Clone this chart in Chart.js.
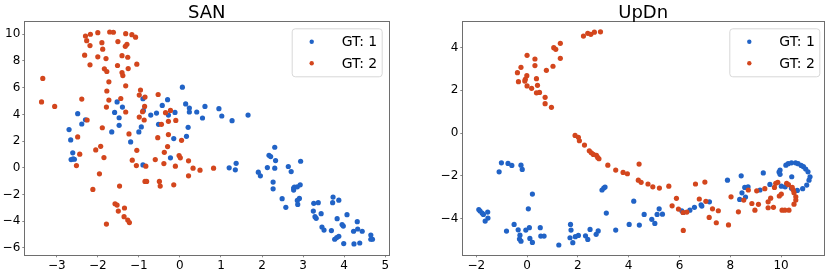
<!DOCTYPE html>
<html>
<head>
<meta charset="utf-8">
<script src="https://cdn.jsdelivr.net/npm/chart.js@4.4.0/dist/chart.umd.min.js"></script>
<style>
body{margin:0;background:#fff;}
#wrap{position:relative;width:830px;height:274px;}
canvas{position:absolute;top:0;}
</style>
</head>
<body>
<div id="wrap">
<canvas id="san" width="400" height="274" style="left:0;width:400px;height:274px"></canvas>
<canvas id="updn" width="400" height="274" style="left:430px;width:400px;height:274px"></canvas>
</div>
<script>
var labels = ["GT: 1", "GT: 2"];
var colors = ["#2163c6", "#d3461d"];

// SAN panel
var sanGT1 = [[-2.49,4.05],[-2.39,3.28],[-2.30,3.6],[-2.70,2.86],[-2.66,2.09],[-2.61,1.12],[-2.65,0.62],[-2.60,0.67],[-2.57,0.64],
[-1.66,2.69],[-1.53,4.93],[-1.40,4.55],[-1.59,4.15],[-1.48,3.75],[-1.48,3.18],[-1.20,1.94],
[-1.0,2.69],[-0.94,3.06],[-0.90,5.17],[-0.89,4.28],[-0.90,0.22],[-0.71,3.95],[-0.57,4.1],[-0.52,3.26],[-0.43,4.67],[-0.30,5.1],[-0.28,3.95],[-0.12,4.15],[-0.23,0.75],[-0.15,2.19],
[0.06,6.04],[0.14,4.78],[0.23,4.48],[0.23,4.18],[0.20,3.03],[0.16,2.36],[0.41,4.18],[0.55,3.73],[0.61,4.6],[0.95,4.43],[1.02,3.88],[1.27,3.53],[1.66,3.95],
[1.20,0.0],[1.35,-0.15],[1.37,0.34],[1.91,-0.33],[1.96,-0.6],[2.13,0.02],[2.17,0.94],[2.21,0.84],[2.31,1.54],[2.33,0.54],[2.31,-0.03],[2.27,-1.07],[2.27,-1.57],[2.49,-2.31],[2.58,-2.96],[2.64,0.1],[2.71,-0.28],[2.94,0.49],[2.77,-1.52],[2.79,-1.45],[2.77,-1.67],[2.86,-1.42],[2.93,-1.27],[2.91,-2.29],[2.86,-2.44],[2.87,-2.74],
[3.26,-2.66],[3.37,-2.61],[3.25,-3.24],[3.29,-3.66],[3.32,-3.78],[3.44,-3.43],[3.46,-4.43],[3.51,-4.66],[3.69,-4.7],[3.73,-2.19],[3.72,-2.61],[3.87,-2.42],[3.83,-3.81],[3.95,-4.25],[3.98,-4.36],[3.77,-5.35],[3.82,-5.22],[3.87,-5.13],[3.99,-5.67],[4.07,-3.51],[4.23,-4.75],[4.24,-5.7],[4.32,-4.03],[4.33,-4.58],[4.38,-5.63],[4.44,-4.75],[4.65,-5.03],[4.65,-5.35],[4.69,-5.35]];

var sanGT2 = [[-3.34,6.69],[-3.37,4.93],[-3.05,4.6],[-2.39,5.15],[-2.26,3.58],[-1.89,3.0],[-2.49,2.31],
[-2.30,9.87],[-2.18,10.0],[-2.0,10.12],[-2.27,9.52],[-2.19,9.15],[-2.32,8.43],[-2.19,7.71],[-2.0,8.31],[-1.90,9.37],[-1.88,8.88],[-1.80,8.18],[-1.84,7.41],[-1.78,7.21],[-1.73,6.44],[-1.78,5.75],[-1.73,5.07],[-1.79,4.55],
[-1.71,10.17],[-1.62,10.15],[-1.51,9.45],[-1.32,10.04],[-1.33,9.1],[-1.29,9.25],[-1.41,8.4],[-1.27,8.28],[-1.52,7.66],[-1.41,7.13],[-1.39,6.91],[-1.26,7.43],[-1.17,9.97],[-1.08,9.78],[-1.05,7.76],[-1.32,6.14],[-1.44,5.19],[-1.32,4.18],
[-0.96,5.82],[-0.99,5.45],[-0.85,5.3],[-0.86,4.6],[-0.91,4.2],[-0.99,3.8],[-0.87,3.58],[-0.53,5.49],[-0.35,4.13],[-0.23,4.3],[-0.10,3.55],[-0.28,3.48],[-0.45,3.26],[-1.24,2.54],[-0.54,2.26],[-0.28,2.49],[0.04,2.06],
[-2.44,1.02],[-2.52,0.17],[-2.05,1.34],[-1.93,1.61],[-1.85,0.77],[-1.96,-0.45],[-2.12,-1.62],[-1.47,-1.37],[-1.58,-2.69],[-1.53,-2.79],[-1.50,-3.24],[-1.35,-3.01],[-1.36,-3.66],[-1.27,-3.91],[-1.23,-4.1],[-1.79,-4.21],
[-1.16,0.57],[-1.05,1.31],[-1.06,0.17],[-0.83,0.12],[-0.85,-1.02],[-0.81,-1.02],[-0.60,0.62],[-0.50,-1.02],[-0.48,-1.37],[-0.38,1.16],[-0.39,0.32],[-0.30,1.59],[-0.15,-1.27],[-0.11,0.12],[-0.02,0.92],[0.01,0.75],[0.21,0.52],[0.21,-0.6],[0.32,-0.03],[0.49,-0.18],[0.82,-0.03]];

var sanXTicks = [-3, -2, -1, 0, 1, 2, 3, 4, 5];
var sanYTicks = [-6, -4, -2, 0, 2, 4, 6, 8, 10];

// UpDn panel
var updnGT1 = [[-1.10,-1.81],[-1.01,-1.39],[-0.75,-1.42],[-0.60,-1.51],[-0.24,-1.5],[-0.19,-1.7],[0.21,-2.85],[0.05,-3.54],
[-1.90,-3.57],[-1.85,-3.64],[-1.77,-3.74],[-1.72,-3.8],[-1.55,-3.69],[-1.54,-3.97],[-1.65,-4.11],[-0.81,-4.58],[-0.51,-4.27],[-0.35,-4.52],[-0.28,-4.77],[-0.30,-4.95],[-0.24,-5.05],[-0.05,-4.53],[0.09,-4.42],[0.11,-4.92],[0.21,-5.11],[0.52,-4.42],[0.54,-4.81],[0.67,-4.81],[1.25,-5.23],
[1.71,-4.27],[1.73,-4.53],[1.69,-4.89],[1.80,-5.12],[1.90,-4.84],[2.02,-4.78],[2.30,-4.8],[2.39,-4.97],[2.48,-4.5],[2.72,-4.73],[2.80,-4.57],[2.95,-2.66],[3.02,-2.57],[3.07,-2.52],[3.12,-3.74],[3.49,-4.53],[4.02,-4.27],
[4.20,-3.18],[4.42,-4.3],[4.61,-3.8],[4.91,-4.03],[5.03,-4.22],[5.12,-3.8],[5.20,-3.54],[5.33,-3.79],[6.09,-3.63],[6.15,-3.71],[6.41,-3.6],[6.59,-3.47],[6.85,-3.35],[6.88,-3.41],[7.18,-3.21],
[7.89,-2.2],[8.37,-3.1],[8.43,-2.0],[8.46,-2.79],[8.57,-2.54],[8.60,-2.99],[8.70,-2.51],[9.17,-2.66],[9.30,-1.86],[9.56,-2.4],[9.92,-1.82],[9.96,-1.73],[9.96,-1.93],[10.01,-2.48],
[10.19,-1.5],[10.28,-1.43],[10.41,-1.39],[10.57,-1.39],[10.67,-1.43],[10.79,-1.51],[10.88,-1.57],[10.97,-1.68],[11.06,-1.81],[11.14,-2.04],[11.10,-2.2],[11.01,-2.43],[10.85,-2.6],[10.64,-2.68],[10.42,-2.04],[10.41,-2.58],[10.16,-2.51]];

var updnGT2 = [[-0.38,2.82],[-0.24,3.07],[-0.34,2.4],[0.0,3.63],[-0.09,2.43],[-0.07,2.51],[-0.01,2.68],[0.0,2.2],[0.18,2.09],[0.31,3.46],[0.31,3.15],[0.37,2.54],[0.41,2.23],[0.37,1.88],[0.49,1.9],[0.71,1.67],[0.71,1.37],[0.76,2.93],[0.96,1.2],[1.02,3.12],[1.05,3.99],[1.13,3.91],[1.31,3.49],[1.31,4.19],
[2.22,4.53],[2.39,4.66],[2.51,4.61],[2.65,4.71],[2.89,4.73],
[1.89,-0.11],[2.02,-0.2],[2.06,-0.36],[2.26,-0.56],[2.45,-0.83],[2.53,-0.92],[2.61,-1.0],[2.73,-1.04],[2.78,-1.14],[2.83,-1.2],[3.18,-1.5],[3.49,-1.73],[3.78,-1.84],[3.95,-1.9],
[4.41,-1.45],[4.38,-2.2],[4.49,-2.3],[4.76,-2.38],[4.95,-2.51],[5.21,-2.57],[5.58,-2.48],[5.88,-3.05],[5.71,-3.4],[5.96,-3.55],[6.14,-3.71],[6.29,-3.69],[6.15,-4.55],[6.63,-2.38],[6.78,-3.08],[7.0,-2.29],[7.04,-3.19],[7.17,-3.94],[7.30,-3.54],[7.45,-4.19],[7.53,-3.63],
[7.93,-4.29],[8.03,-2.98],[8.32,-3.68],[8.53,-3.13],[8.71,-2.66],[8.85,-3.29],[8.97,-3.6],[9.04,-2.7],[9.11,-3.33],[9.36,-2.6],[9.49,-3.21],[9.49,-3.49],[9.59,-3.04],[9.70,-3.47],[9.74,-2.54],[9.79,-2.35],[9.87,-2.3],[9.93,-2.94],
[10.04,-3.6],[10.15,-3.6],[10.22,-2.35],[10.29,-2.41],[10.31,-3.6],[10.44,-2.54],[10.48,-2.66],[10.51,-2.79],[10.58,-2.98],[10.58,-3.13],[10.51,-3.32],[10.01,-2.85]];

var updnXTicks = [-2, 0, 2, 4, 6, 8, 10];
var updnYTicks = [-4, -2, 0, 2, 4];

function toPts(arr) {
  return arr.map(function (p) { return {x: p[0], y: p[1]}; });
}

// frame, title and legend drawn inside the plot like matplotlib
var decor = {
  id: 'decor',
  afterDraw: function (chart, args, opts) {
    var ctx = chart.ctx, a = chart.chartArea;
    ctx.save();
    ctx.strokeStyle = '#6e6e6e';
    ctx.lineWidth = 1;
    ctx.strokeRect(Math.round(a.left) + 0.5, Math.round(a.top) + 0.5, Math.round(a.right - a.left), Math.round(a.bottom - a.top));

    ctx.fillStyle = '#000';
    ctx.font = '18px "DejaVu Sans"';
    ctx.textAlign = 'center';
    ctx.textBaseline = 'alphabetic';
    ctx.fillText(opts.text, (a.left + a.right) / 2, 17.5);

    var bw = 90, bh = 48;
    var bx = a.right - opts.inset - bw, by = a.top + 7;
    ctx.beginPath();
    ctx.roundRect(bx + 0.5, by + 0.5, bw, bh, 3);
    ctx.fillStyle = 'rgba(255,255,255,0.8)';
    ctx.fill();
    ctx.strokeStyle = '#d8d8d8';
    ctx.stroke();

    ctx.font = '14px "DejaVu Sans"';
    ctx.textAlign = 'right';
    ctx.textBaseline = 'middle';
    chart.data.datasets.forEach(function (ds, i) {
      var ry = by + 13.5 + i * 21.5;
      ctx.beginPath();
      ctx.arc(bx + 20, ry, 2.2, 0, Math.PI * 2);
      ctx.fillStyle = ds.backgroundColor;
      ctx.fill();
      ctx.fillStyle = '#000';
      ctx.fillText(ds.label, bx + bw - 4.5, ry + 1);
    });
    ctx.restore();
  }
};

function fmt(v) {
  return String(v).replace('-', '\u2212');
}

function makeChart(id, title, gt1, gt2, xr, yr, xt, yt, yw, rightPad, inset) {
  return new Chart(document.getElementById(id), {
    type: 'scatter',
    data: {
      datasets: [
        {label: labels[0], data: toPts(gt1), backgroundColor: colors[0], borderWidth: 0, pointRadius: 2.6, order: 2},
        {label: labels[1], data: toPts(gt2), backgroundColor: colors[1], borderWidth: 0, pointRadius: 2.6, order: 1}
      ]
    },
    options: {
      responsive: false,
      animation: false,
      layout: {padding: {left: 0, top: 21.3, right: rightPad, bottom: 0}},
      plugins: {
        legend: {display: false},
        tooltip: {enabled: false},
        decor: {text: title, inset: inset}
      },
      scales: {
        x: {
          type: 'linear', min: xr[0], max: xr[1],
          afterBuildTicks: function (s) { s.ticks = xt.map(function (v) { return {value: v}; }); },
          afterFit: function (s) { s.height = 18.7; },
          grid: {display: true, drawOnChartArea: false, drawTicks: true, tickLength: 2, color: '#888'},
          border: {display: false},
          ticks: {font: {family: 'DejaVu Sans', size: 12}, color: '#000', padding: 1, maxRotation: 0, callback: fmt}
        },
        y: {
          type: 'linear', min: yr[0], max: yr[1],
          afterBuildTicks: function (s) { s.ticks = yt.map(function (v) { return {value: v}; }); },
          afterFit: function (s) { s.width = yw; },
          grid: {display: true, drawOnChartArea: false, drawTicks: true, tickLength: 2, color: '#888'},
          border: {display: false},
          ticks: {font: {family: 'DejaVu Sans', size: 12}, color: '#000', padding: 2, callback: fmt}
        }
      }
    },
    plugins: [decor]
  });
}

makeChart('san', 'SAN', sanGT1, sanGT2, [-3.79, 5.10], [-6.55, 10.97], sanXTicks, sanYTicks, 24.3, 10.7, 7.6);
makeChart('updn', 'UpDn', updnGT1, updnGT2, [-2.55, 11.69], [-5.71, 5.22], updnXTicks, updnYTicks, 32.3, 6, 4.7);
</script>
</body>
</html>
